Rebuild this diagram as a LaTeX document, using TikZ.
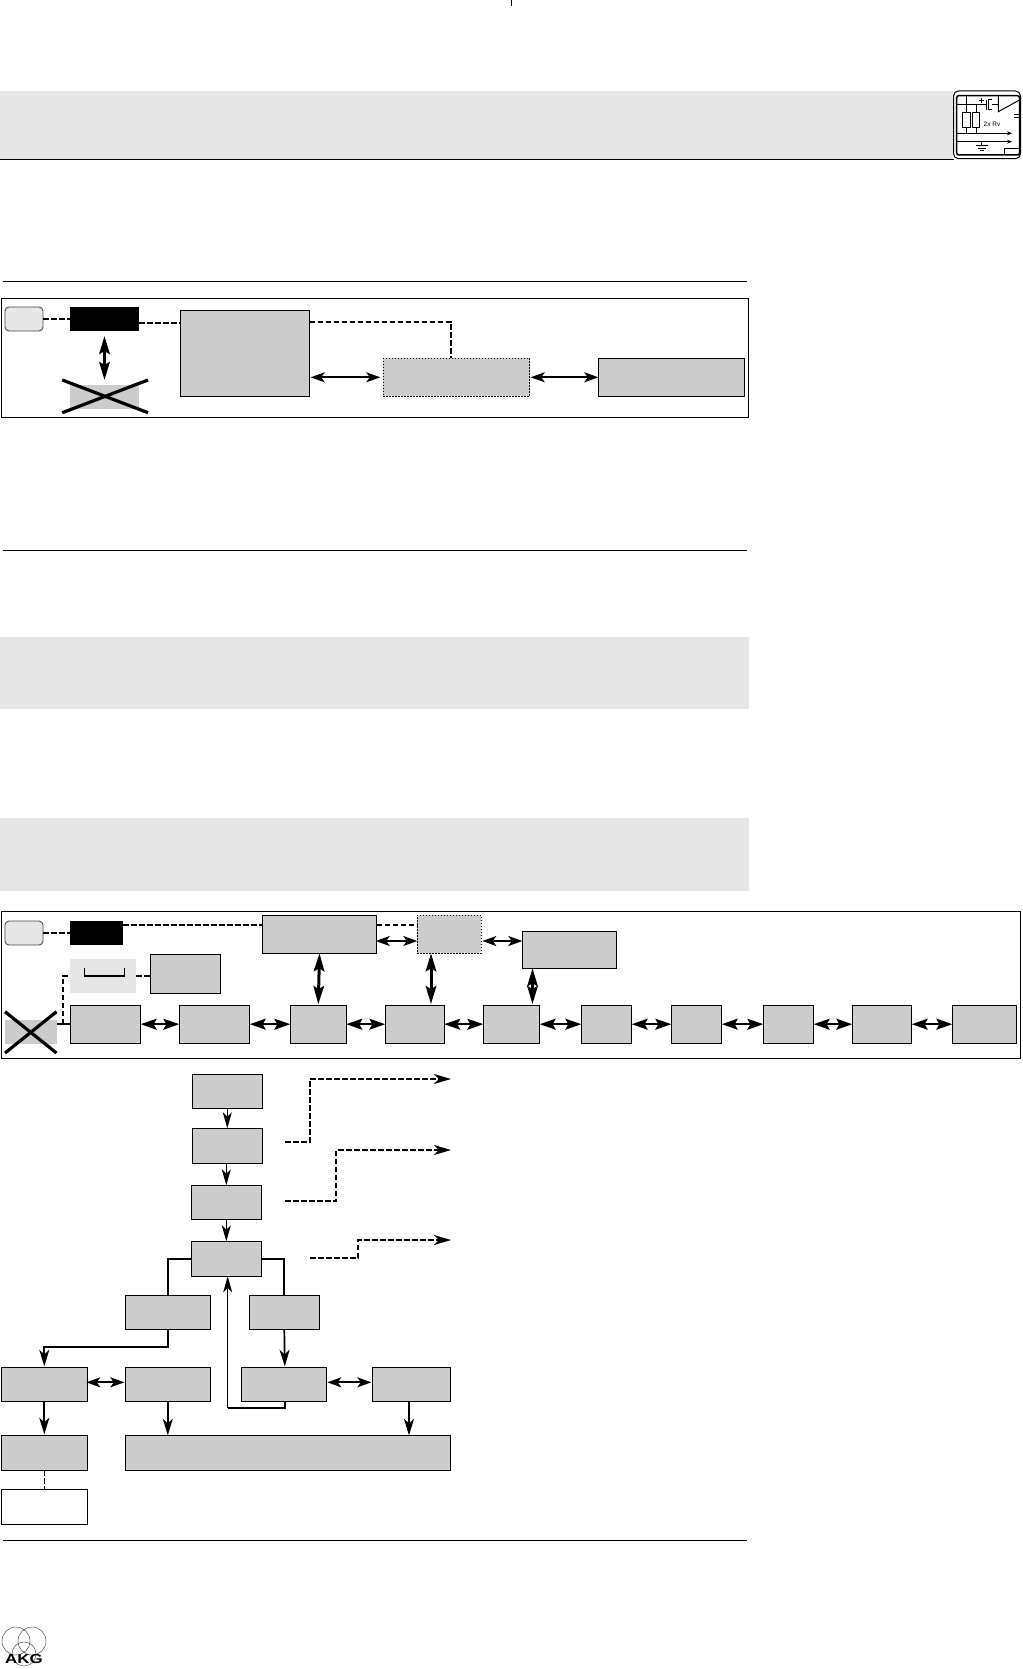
\documentclass[tikz,border=0pt]{standalone}
\usepackage{fontspec}
\setsansfont{Liberation Sans}
\usepackage{xcolor}
\usetikzlibrary{arrows.meta}
\definecolor{boxgray}{HTML}{CCCCCC}
\definecolor{bandgray}{HTML}{E6E6E6}
\tikzset{
  every picture/.style={line join=miter, line cap=butt, x=1pt, y=-1pt},
  box/.style={draw, fill=boxgray, line width=0.9pt, inner sep=0pt, outer sep=0pt},
  dotbox/.style={box, dash pattern=on 1.5pt off 1.5pt},
  blackbox/.style={fill=black, inner sep=0pt, outer sep=0pt},
  plainbox/.style={fill=boxgray, inner sep=0pt, outer sep=0pt},
  keybox/.style={draw=black!70, fill=bandgray, line width=0.9pt, rounded corners=4pt, inner sep=0pt, outer sep=0pt},
  dashline/.style={line width=1.6pt, dash pattern=on 5.5pt off 2.5pt},
  crossline/.style={line width=3.2pt},
  flow/.style={line width=1.7pt, -{Stealth[length=16.5pt,width=10pt,inset=4.5pt]}},
  thinflow/.style={line width=1pt, -{Stealth[length=16pt,width=9pt,inset=4.5pt]}},
  dashflow/.style={dashline, -{Stealth[length=17pt,width=10pt,inset=5pt]}},
  dbl/.style={line width=1.8pt, {Stealth[length=14pt,width=10pt,inset=3.5pt]}-{Stealth[length=14pt,width=10pt,inset=3.5pt]}},
  rowdbl/.style={line width=1.8pt, {Stealth[length=16pt,width=11pt,inset=3pt]}-{Stealth[length=16pt,width=11pt,inset=3pt]}},
  vdbl/.style={line width=3pt, {Stealth[length=18pt,width=10.5pt,inset=3pt]}-{Stealth[length=18pt,width=10.5pt,inset=3pt]}},
  rulerline/.style={line width=0.9pt},
  band/.style={fill=bandgray, draw=none},
  icon/.style={line width=1pt},
}
\begin{document}
\begin{tikzpicture}
\useasboundingbox (0,0) rectangle (1022,1669);
\fill[white] (0,0) rectangle (1022,1669);
\draw[line width=0.5pt] (511,0)--(511,6);
\fill[band] (0,91) rectangle (953,159);
\draw[rulerline] (0,159.5)--(954,159.5);
\draw[rulerline] (3,281)--(747,281);
\draw[rulerline] (3,550.5)--(747,550.5);
\fill[band] (0,637) rectangle (749,709);
\fill[band] (0,817.5) rectangle (749,891);
\draw[rulerline] (3,1540.3)--(747,1540.3);
\draw[fill=white,rounded corners=5pt,line width=1pt] (953.5,91) rectangle (1020.5,158.7);
\draw[line width=1.5pt,rounded corners=2pt] (956.7,95.7) rectangle (1019.5,155);
\draw[icon] (957,105)--(985.5,105);
\draw[icon] (986.7,100)--(986.7,110);
\draw[icon] (992,100)--(988.7,100)--(988.7,110)--(992,110);
\draw[icon] (992,105)--(998.3,105);
\draw[icon] (998.3,96)--(998.3,111.7)--(1019.5,100);
\draw[icon] (981.7,98)--(981.7,103) (979.2,100.5)--(984.2,100.5);
\draw[icon] (966,96)--(966,133.3);
\draw[icon] (976,105)--(976,133.3);
\draw[icon,fill=white] (962.3,112.3) rectangle (970,127.3);
\draw[icon,fill=white] (972.7,112.3) rectangle (979.3,127.3);
\draw[icon,-{Stealth[length=5pt,width=4pt]}] (957,133.3)--(1012,133.3);
\draw[icon,-{Stealth[length=5pt,width=4pt]}] (957,141.7)--(1012,141.7);
\draw[icon] (981.7,141.7)--(981.7,146) (976,146)--(987.5,146) (978,148.5)--(985.5,148.5) (980,151)--(983.5,151);
\draw[icon] (1004,155)--(1004,149)--(1019.5,149);
\draw[icon] (1013.5,115)--(1019.5,115) (1013.5,118)--(1019.5,118);
\node[font=\fontsize{6.5}{7}\selectfont\sffamily,inner sep=0pt] (rvlabel) at (992,124.5) {2x Rv};
\draw[line width=1pt] (1,298.3) rectangle (748.7,417);
\node[keybox,minimum width=38,minimum height=24] (keya) at (24,319) {};
\node[blackbox,minimum width=69,minimum height=24] (blacka) at (104.5,319) {};
\node[plainbox,minimum width=69,minimum height=24] (crossa) at (104.5,397) {};
\node[box,minimum width=129.4,minimum height=86] (biga) at (245,353.3) {};
\node[dotbox,minimum width=146.4,minimum height=38] (dota) at (456.5,377.3) {};
\node[box,minimum width=146.4,minimum height=38] (righta) at (671.5,377.3) {};
\draw[crossline] (62.3,412.7)--(148,380);
\draw[crossline] (62.3,380)--(148,412.7);
\draw[dashline] (keya.east)--(blacka.west);
\draw[dashline] ([yshift=-3.7pt]blacka.east)--(biga.west|-0,322.7);
\coordinate (dropa) at (451,358.3);
\draw[dashline] (biga.east|-0,321.7)-|(dropa);
\draw[vdbl] ([yshift=-5pt]blacka.south)--([yshift=5pt]crossa.north);
\draw[dbl] ([xshift=1pt]biga.east|-dota.west)--([xshift=-3pt]dota.west);
\draw[dbl] ([xshift=1pt]dota.east)--(righta.west);
\draw[line width=1pt] (1,911.3) rectangle (1020,1058.3);
\node[keybox,minimum width=38,minimum height=24] (keyb) at (24,933) {};
\node[blackbox,minimum width=53,minimum height=24] (blackb) at (96.5,933) {};
\node[box,minimum width=114.4,minimum height=38] (wideb) at (319.5,934.3) {};
\node[dotbox,minimum width=64,minimum height=38] (dotb) at (449.3,934.3) {};
\node[box,minimum width=94.4,minimum height=37] (topb) at (569.5,949.8) {};
\node[fill=bandgray,inner sep=0pt,outer sep=0pt,minimum width=66,minimum height=34] (lightb) at (103,976) {};
\node[box,minimum width=70.4,minimum height=39] (smallb) at (185.5,973.8) {};
\draw[line width=1.1pt] (84.5,967.7)--(84.5,976)--(124.5,976)--(124.5,967.7);
\node[plainbox,minimum width=52,minimum height=24] (crossb) at (31,1032) {};
\node[box,minimum width=70.4,minimum height=38.3] (rowa) at (105.5,1024.2) {};
\node[box,minimum width=70.4,minimum height=38.3] (rowb) at (214.5,1024.2) {};
\node[box,minimum width=56,minimum height=38.3] (rowc) at (318.3,1024.2) {};
\node[box,minimum width=59,minimum height=38.3] (rowd) at (414.8,1024.2) {};
\node[box,minimum width=56.4,minimum height=38.3] (rowe) at (511.5,1024.2) {};
\node[box,minimum width=50.4,minimum height=38.3] (rowf) at (606.5,1024.2) {};
\node[box,minimum width=50.4,minimum height=38.3] (rowg) at (696.5,1024.2) {};
\node[box,minimum width=50.4,minimum height=38.3] (rowh) at (788.5,1024.2) {};
\node[box,minimum width=59.4,minimum height=38.3] (rowi) at (882,1024.2) {};
\node[box,minimum width=64.4,minimum height=38.3] (rowj) at (984.5,1024.2) {};
\draw[crossline] (5,1011.7)--(56.5,1053);
\draw[crossline] (5,1053)--(56.5,1011.7);
\draw[line width=1.5pt] (crossb.east|-rowa.west)--(rowa.west);
\coordinate (brancha) at (63,1024.2);
\draw[dashline] (keyb.east)--(blackb.west);
\draw[dashline] ([yshift=8.3pt]blackb.east)--(wideb.west|-0,924.7);
\draw[dashline] (wideb.east|-0,924.7)--(dotb.west|-0,924.7);
\draw[dashline] (brancha)|-(lightb.west);
\draw[dashline] (lightb.east)--(smallb.west|-lightb.east);
\draw[dbl] ([xshift=-1pt]wideb.east|-0,941)--(dotb.west|-0,941);
\draw[dbl] ([xshift=1pt]dotb.east|-0,941)--(topb.west|-0,941);
\draw[vdbl] (wideb.south)--([yshift=1pt]rowc.north);
\draw[vdbl] (dotb.south-|rowd.north)++(16.2,0)--([xshift=16.2pt,yshift=1pt]rowd.north);
\draw[vdbl] (topb.south-|rowe.north)++(21,0)--([xshift=21pt,yshift=1pt]rowe.north);
\foreach \a/\b in {rowa/rowb,rowb/rowc,rowc/rowd,rowd/rowe,rowe/rowf,rowf/rowg,rowg/rowh,rowh/rowi,rowi/rowj}
  \draw[rowdbl] (\a.east)--(\b.west);
\node[box,minimum width=70,minimum height=34] (stepa) at (227.3,1091.3) {};
\node[box,minimum width=70,minimum height=35] (stepb) at (227.3,1145.8) {};
\node[box,minimum width=70,minimum height=34] (stepc) at (226.3,1202.3) {};
\node[box,minimum width=70,minimum height=35] (stepd) at (226.3,1258.8) {};
\node[box,minimum width=85,minimum height=34] (lefta) at (167.8,1312.3) {};
\node[box,minimum width=70,minimum height=34] (righte) at (284.3,1312.3) {};
\node[box,minimum width=86,minimum height=34.4] (onea) at (44.3,1384.5) {};
\node[box,minimum width=85,minimum height=34.4] (oneb) at (167.8,1384.5) {};
\node[box,minimum width=85,minimum height=34.4] (onec) at (283.8,1384.5) {};
\node[box,minimum width=78,minimum height=34.4] (oned) at (411.3,1384.5) {};
\node[box,minimum width=86,minimum height=35] (twoa) at (44.3,1452.8) {};
\node[box,minimum width=325,minimum height=35] (twob) at (287.8,1452.8) {};
\node[draw,fill=white,line width=0.9pt,inner sep=0pt,outer sep=0pt,minimum width=86,minimum height=35] (threea) at (44.3,1506.8) {};
\draw[thinflow] (stepa.south)--(stepb.north);
\draw[thinflow] ([xshift=-1pt]stepb.south)--(stepc.north);
\draw[thinflow] (stepc.south)--(stepd.north);
\draw[line width=1.7pt] (stepd.west)-|(lefta.north);
\draw[line width=1.7pt] (stepd.east)-|(righte.north);
\coordinate (turna) at (167.8,1346.7);
\draw[flow] (lefta.south)--(turna)-|([yshift=1pt]onea.north);
\draw[flow] (righte.south)--([xshift=1pt,yshift=1pt]onec.north);
\draw[dbl] ([xshift=-1pt]onea.east|-0,1382.3)--([xshift=-1pt]oneb.west|-0,1382.3);
\draw[dbl] ([xshift=1pt]onec.east|-0,1382.3)--([xshift=-1pt]oned.west|-0,1382.3);
\coordinate (loopa) at (285,1407.7);
\coordinate (loopb) at (227.7,1407.7);
\draw[line width=1.7pt] (285,1401.7)--(loopa)--(loopb);
\draw[thinflow] (loopb)--(stepd.south-|loopb);
\draw[flow] (onea.south)--([yshift=1pt]twoa.north);
\draw[flow] (oneb.south)--(twob.north-|oneb.south);
\draw[flow] (oned.south-|409,0)--(twob.north-|409,0);
\draw[line width=1.6pt,dash pattern=on 5.5pt off 2.5pt] (twoa.south)--(threea.north);
\coordinate (outa) at (285,1141.7);
\coordinate (outb) at (285,1201);
\coordinate (outc) at (310,1258);
\coordinate (enda) at (451,1079);
\coordinate (endb) at (451,1150);
\coordinate (endc) at (451,1240);
\draw[dashflow] (outa)-|(310,1079)--(enda);
\draw[dashflow] (outb)-|(336,1150)--(endb);
\draw[dashflow] (outc)-|(358,1240)--(endc);
\draw[line width=0.5pt,black!70] (16,1641) circle (14);
\draw[line width=0.5pt,black!70] (32,1641) circle (14);
\draw[line width=0.5pt,black!70] (24,1654) circle (12);
\node[font=\fontsize{13}{13}\selectfont\bfseries\sffamily,xscale=1.3,inner sep=0pt] (logotext) at (24,1659.5) {AKG};
\end{tikzpicture}
\end{document}
